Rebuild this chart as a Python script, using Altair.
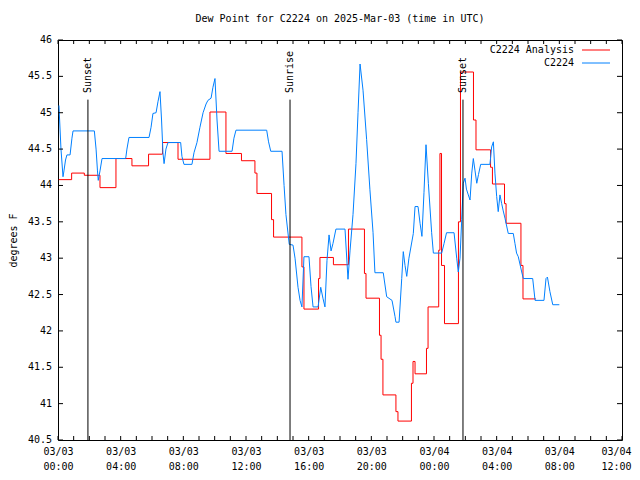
import altair as alt
import pandas as pd

# ---- data (hours since 2025-03-03 00:00 UTC) ----
analysis_h = [0.05, 0.87, 1.68, 2.68, 3.70, 4.72, 5.78, 6.67, 7.66, 9.70, 10.72, 11.71,
              12.57, 12.70, 13.63, 13.76, 15.57, 15.70, 16.63, 16.72, 17.58, 18.54, 19.56,
              19.66, 20.52, 20.62, 20.74, 21.57, 21.70, 22.56, 22.66, 22.79, 23.52, 23.62,
              24.30, 24.38, 24.48, 24.67, 25.56, 25.69, 26.52, 26.68, 27.61, 27.73, 28.50,
              28.60, 29.55, 29.68, 30.51]
analysis_v = [44.08, 44.17, 44.14, 43.97, 44.37, 44.27, 44.43, 44.59, 44.36, 45.01, 44.44, 44.34,
              44.17, 43.89, 43.53, 43.29, 42.88, 42.30, 42.72, 43.01, 42.91, 43.40, 42.79,
              42.45, 41.94, 41.61, 41.12, 40.89, 40.76, 41.28, 41.58, 41.41, 41.76, 42.33,
              43.11, 44.44, 42.90, 42.10, 43.50, 45.56, 44.90, 44.49, 44.25, 44.02, 43.75,
              43.48, 42.90, 42.44, 42.44]

station_h = [0.06, 0.19, 0.32, 0.38, 0.48, 0.57, 0.77, 0.89, 0.96, 2.32, 2.43, 2.52, 2.57, 2.68,
             2.81, 4.32, 4.40, 4.53, 5.81, 5.94, 6.06, 6.26, 6.38, 6.51, 6.61, 6.70, 6.77, 6.89,
             7.02, 7.83, 7.91, 8.04, 8.55, 8.68, 8.87, 9.06, 9.26, 9.45, 9.57, 9.77, 9.89, 10.02,
             10.15, 10.28, 11.11, 11.23, 11.36, 13.32, 13.44, 13.58, 14.30, 14.43, 14.55, 14.76,
             15.00, 15.13, 15.32, 15.45, 15.57, 15.64, 15.70, 16.02, 16.15, 16.28, 16.60, 16.77,
             16.91, 17.04, 17.17, 17.30, 17.43, 17.55, 17.74, 18.32, 18.51, 18.64, 18.83, 19.02,
             19.15, 19.28, 19.47, 19.70, 19.91, 20.11, 20.23, 20.76, 20.98, 21.32, 21.51, 21.57,
             21.77, 21.94, 22.04, 22.15, 22.26, 22.40, 22.68, 22.79, 22.98, 23.11, 23.23, 23.36,
             23.49, 23.64, 23.85, 23.96, 24.49, 24.64, 24.80, 25.28, 25.45, 25.55, 25.66, 25.77,
             25.87, 25.98, 26.07, 26.19, 26.30, 26.41, 26.51, 26.62, 26.73, 26.84, 26.98, 27.57,
             27.68, 27.79, 27.89, 28.00, 28.10, 28.21, 28.32, 28.42, 28.53, 28.74, 29.06, 29.17,
             29.27, 29.38, 29.60, 29.70, 30.30, 30.45, 31.02, 31.15, 31.24, 31.40, 31.58, 32.00]
station_v = [45.10, 44.50, 44.12, 44.20, 44.35, 44.42, 44.42, 44.65, 44.75, 44.75, 44.50, 44.20,
             44.07, 44.20, 44.37, 44.37, 44.50, 44.66, 44.66, 44.80, 44.99, 45.00, 45.15, 45.29,
             44.90, 44.45, 44.30, 44.50, 44.59, 44.59, 44.40, 44.29, 44.29, 44.45, 44.59, 44.80,
             45.00, 45.12, 45.17, 45.20, 45.35, 45.47, 44.90, 44.47, 44.47, 44.65, 44.76, 44.76,
             44.60, 44.47, 44.47, 44.00, 43.60, 43.19, 43.18, 43.00, 42.60, 42.42, 42.33, 42.70,
             43.02, 43.02, 42.61, 42.33, 42.33, 42.60, 42.45, 42.33, 42.97, 43.32, 43.10, 43.20,
             43.40, 43.40, 42.71, 43.10, 43.60, 44.30, 45.00, 45.67, 45.31, 44.63, 43.94, 43.35,
             42.80, 42.80, 42.47, 42.42, 42.20, 42.12, 42.12, 42.72, 43.09, 42.90, 42.75, 43.00,
             43.34, 43.71, 43.71, 43.48, 43.30, 43.90, 44.56, 44.03, 43.35, 43.07, 43.07, 43.20,
             43.35, 43.35, 43.00, 42.81, 43.00, 43.53, 44.03, 44.10, 43.95, 43.87, 43.80, 44.17,
             44.37, 44.20, 44.03, 44.15, 44.29, 44.29, 44.53, 44.60, 44.17, 43.85, 43.64, 43.87,
             43.75, 43.65, 43.55, 43.34, 43.34, 43.20, 43.07, 43.02, 42.81, 42.72, 42.72, 42.42,
             42.42, 42.72, 42.74, 42.54, 42.36, 42.36]

sun_h = [1.91, 14.81, 25.85]
sun_label = ["Sunset", "Sunrise", "Sunset"]

x_tick_values = list(range(0, 37, 4))
x_minor_ticks = list(range(0, 37))
y_tick_values = [40.5, 41.0, 41.5, 42.0, 42.5, 43.0, 43.5, 44.0, 44.5, 45.0, 45.5, 46.0]
y_tick_labels = ["40.5", "41", "41.5", "42", "42.5", "43", "43.5", "44", "44.5", "45",
                 "45.5", "46"]

series_names = ["C2224 Analysis", "C2224"]
series_colors = ["#ff0000", "#0080ff"]

FONT = "DejaVu Sans Mono"
W, H = 564, 400

df_a = pd.DataFrame({"h": analysis_h, "v": analysis_v})
df_s = pd.DataFrame({"h": station_h, "v": station_v})
df_sun = pd.DataFrame({"h": sun_h, "label": sun_label})
df_xt = pd.DataFrame({"h": x_minor_ticks})
df_yt = pd.DataFrame({"v": y_tick_values, "lab": y_tick_labels})

xscale = alt.Scale(domain=[0, 36], nice=False, zero=False)
yscale = alt.Scale(domain=[40.5, 46], nice=False, zero=False)

x_label_expr = ("[(datum.value < 24 ? '03/03' : '03/04'), "
                "format(datum.value % 24, '02d') + ':00']")

xenc = alt.X("h:Q", scale=xscale, title=None,
             axis=alt.Axis(values=x_tick_values, labelExpr=x_label_expr, ticks=False,
                           domain=False, grid=False, labelFont=FONT, labelFontSize=10,
                           labelColor="black", labelPadding=6, labelLineHeight=15,
                           labelFlush=False, labelOverlap=False,
                           labelOffset={"condition": {"test": "datum.value == 36",
                                                      "value": -6}, "value": 0}))
yenc = alt.Y("v:Q", scale=yscale, title="degrees F",
             axis=alt.Axis(values=y_tick_values, labels=False, ticks=False,
                           domain=False, grid=False, titleFont=FONT,
                           titleFontSize=10, titleFontWeight="normal", titleColor="black",
                           titleX=-45, titleY=H / 2, titleAngle=270, titleAlign="center",
                           titleBaseline="middle"))

line_a = alt.Chart(df_a).mark_line(color=series_colors[0], strokeWidth=1,
                                   interpolate="step-after").encode(x=xenc, y=yenc)
line_s = alt.Chart(df_s).mark_line(color=series_colors[1], strokeWidth=1).encode(
    x=alt.X("h:Q", scale=xscale), y=alt.Y("v:Q", scale=yscale))

sun_rules = alt.Chart(df_sun).mark_rule(color="black", strokeWidth=1).encode(
    x=alt.X("h:Q", scale=xscale), y=alt.datum(45.18), y2=alt.datum(40.5))
sun_text = alt.Chart(df_sun).mark_text(angle=270, align="left", baseline="middle",
                                       font=FONT, fontSize=10, color="black").encode(
    x=alt.X("h:Q", scale=xscale), y=alt.datum(45.27), text="label:N")

# inward ticks (gnuplot style, mirrored)
xt_bottom = alt.Chart(df_xt).mark_rule(color="black").encode(
    x=alt.X("h:Q", scale=xscale), y=alt.value(H), y2=alt.value(H - 4))
xt_top = alt.Chart(df_xt).mark_rule(color="black").encode(
    x=alt.X("h:Q", scale=xscale), y=alt.value(0), y2=alt.value(4))
yt_left = alt.Chart(df_yt).mark_rule(color="black").encode(
    y=alt.Y("v:Q", scale=yscale), x=alt.value(0), x2=alt.value(5))
yt_right = alt.Chart(df_yt).mark_rule(color="black").encode(
    y=alt.Y("v:Q", scale=yscale), x=alt.value(W), x2=alt.value(W - 5))
y_labels = alt.Chart(df_yt).mark_text(align="right", baseline="middle", font=FONT,
                                      fontSize=10, color="black").encode(
    y=alt.Y("v:Q", scale=yscale), x=alt.value(-6), text="lab:N")

legend_layers = []
for i, (name, col) in enumerate(zip(series_names, series_colors)):
    ly = 10 + 13 * i
    ldf = pd.DataFrame({"name": [name]})
    legend_layers.append(alt.Chart(ldf).mark_text(align="right", baseline="middle", font=FONT,
                                                  fontSize=10, color="black").encode(
        x=alt.value(516), y=alt.value(ly), text="name:N"))
    legend_layers.append(alt.Chart(ldf).mark_rule(color=col, strokeWidth=1).encode(
        x=alt.value(524), x2=alt.value(552), y=alt.value(ly)))

chart = alt.layer(line_a, line_s, sun_rules, sun_text, xt_bottom, xt_top, yt_left, yt_right,
                  y_labels, *legend_layers).properties(
    width=W, height=H,
    title=alt.TitleParams("Dew Point for C2224 on 2025-Mar-03 (time in UTC)", font=FONT,
                          fontSize=10, fontWeight="normal", color="black", anchor="middle",
                          offset=11),
    autosize=alt.AutoSizeParams(type="none"),
    padding={"left": 50, "top": 32, "right": 10, "bottom": 32},
    background="white",
).configure_view(stroke="black", strokeWidth=1)

chart.save("out.html", embed_options={"renderer": "svg", "actions": False})
